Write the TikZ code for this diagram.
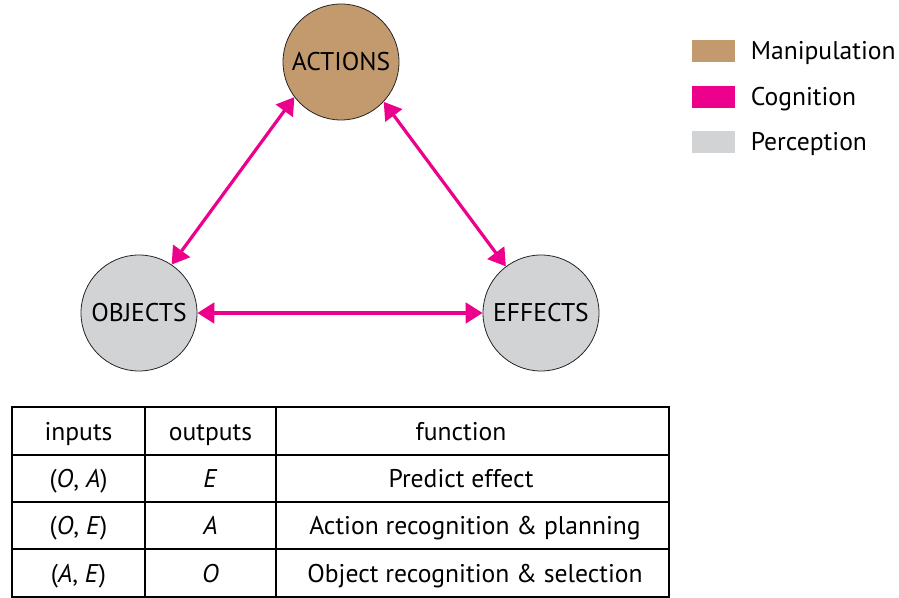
\documentclass[tikz,border=0pt]{standalone}
\usepackage{fontspec}
\setmainfont{PT Sans}
\usetikzlibrary{arrows.meta, shapes.geometric}
\definecolor{themeBrown}{RGB}{194, 154, 109}
\definecolor{themeMagenta}{RGB}{236, 0, 140}
\definecolor{themeGrey}{RGB}{209, 211, 212}

\begin{document}
\begin{tikzpicture} [
        x=0.5pt, y=-0.5pt,
        font=\fontsize{12.8}{14}\selectfont,
        concept/.style={draw=black!85, line width=0.4pt, circle, minimum size=58pt, inner sep=0pt, text height=8.5pt, text depth=0pt},
        link/.style={draw=themeMagenta, line width=1.6pt, {Triangle[length=8.5pt, width=10.3pt]}-{Triangle[length=8.5pt, width=10.3pt]}},
        legend box/.style={fill=#1, minimum width=21.5pt, minimum height=11pt, inner sep=0pt},
        legend label/.style={anchor=west, inner sep=0pt, text height=8.5pt, text depth=0pt},
        cell/.style={inner sep=0pt, text height=9pt, text depth=0pt},
        table line/.style={line width=1.3pt},
    ]

    \useasboundingbox (0,0) rectangle (899,598);

    % triangle
    \path (341,62) node[concept, fill=themeBrown] (actions) {ACTIONS};
    \path (139,313) node[concept, fill=themeGrey] (objects) {OBJECTS};
    \path (541,313) node[concept, fill=themeGrey] (effects) {EFFECTS};

    \draw[link] (actions.217) -- (objects.56);
    \draw[link] (actions.317) -- (effects.127);
    \draw[link] (objects) -- (effects);

    % legend
    \path (713.5,51) node[legend box=themeBrown] (manipulation box) {};
    \path (manipulation box.east) ++(15,0) node[legend label] (manipulation) {Manipulation};
    \path (713.5,97) node[legend box=themeMagenta] (cognition box) {};
    \path (cognition box.east) ++(15,0) node[legend label] (cognition) {Cognition};
    \path (713.5,142.5) node[legend box=themeGrey] (perception box) {};
    \path (perception box.east) ++(15,0) node[legend label] (perception) {Perception};

    % table
    \draw[table line] (12,407) rectangle (669,597);
    \foreach \y in {455,502,549}
        \draw[table line] (12,\y) -- (669,\y);
    \foreach \x in {145,276}
        \draw[table line] (\x,407) -- (\x,597);

    \path (78.5,431) node[cell] (inputs) {inputs};
    \path (210.5,431) node[cell] (outputs) {outputs};
    \path (461,431) node[cell] (function) {function};

    \path (78.5,478.5) node[cell] (in OA) {(\textit{O}, \textit{A})};
    \path (210.5,478.5) node[cell] (out E) {\textit{E}};
    \path (461,478.5) node[cell] (fn predict) {Predict effect};

    \path (78.5,525.5) node[cell] (in OE) {(\textit{O}, \textit{E})};
    \path (210.5,525.5) node[cell] (out A) {\textit{A}};
    \path (475,525.5) node[cell] (fn action) {Action recognition \& planning};

    \path (78.5,573) node[cell] (in AE) {(\textit{A}, \textit{E})};
    \path (210.5,573) node[cell] (out O) {\textit{O}};
    \path (475,573) node[cell] (fn object) {Object recognition \& selection};

\end{tikzpicture}
\end{document}
